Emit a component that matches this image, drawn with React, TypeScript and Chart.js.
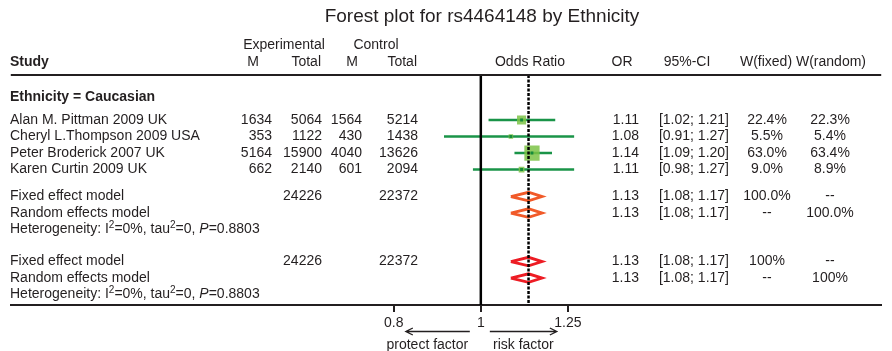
import React, { useEffect, useRef } from 'react';
import { Chart, registerables } from 'chart.js';

Chart.register(...registerables);

// ---------------- data ----------------
const TITLE = 'Forest plot for rs4464148 by Ethnicity';
const SUBGROUP_LABEL = 'Ethnicity = Caucasian';
const studies = ['Alan M. Pittman 2009 UK', 'Cheryl L.Thompson 2009 USA', 'Peter Broderick 2007 UK', 'Karen Curtin 2009 UK'];
const expEvents = [1634, 353, 5164, 662];
const expTotal = [5064, 1122, 15900, 2140];
const ctrlEvents = [1564, 430, 4040, 601];
const ctrlTotal = [5214, 1438, 13626, 2094];
const oddsRatios = [1.11, 1.08, 1.14, 1.11];
const ciLower = [1.02, 0.91, 1.09, 0.98];
const ciUpper = [1.21, 1.27, 1.2, 1.27];
const weightFixed = [22.4, 5.5, 63.0, 9.0];
const weightRandom = [22.3, 5.4, 63.4, 8.9];

const modelNames = ['Fixed effect model', 'Random effects model'];
const pooledOR = [1.13, 1.13];
const pooledLower = [1.08, 1.08];
const pooledUpper = [1.17, 1.17];
const pooledExpTotal = 24226;
const pooledCtrlTotal = 22372;
const subgroupWFixed = ['100.0%', '--'];
const subgroupWRandom = ['--', '100.0%'];
const overallWFixed = ['100%', '--'];
const overallWRandom = ['--', '100%'];
const hetI2 = '0%';
const hetTau2 = '0';
const hetP = '0.8803';

const xTicks = [0.8, 1, 1.25];
const referenceOR = 1;

// ---------------- layout / style ----------------
const FONT = '"Liberation Sans", Arial, Helvetica, sans-serif';
const TXT = '#231f20';
const LINE_GREEN = '#1a9448';
const SQUARE_GREEN = 'rgba(125,195,70,0.85)';
const DOT_GREEN = '#168a3c';
const ORANGE = '#f15a29';
const RED = '#ed1c24';

const X_MIN = 0.304;
const X_MAX = 2.7887;
const Y_MIN = -0.727;
const Y_MAX = 13.21;

const ROW_HEAD1 = -2.52;
const ROW_HEAD2 = -1.52;
const ROW_SUBGROUP = 0.6;
const studyRow = (i: number) => 2 + i;
const subgroupModelRows = [6.64, 7.64];
const ROW_HET1 = 8.64;
const overallModelRows = [10.58, 11.58];
const ROW_HET2 = 12.58;
const DIAMOND_HALF = 0.26;

const fmt2 = (v: number) => v.toFixed(2);
const ciText = (lo: number, hi: number) => `[${fmt2(lo)}; ${fmt2(hi)}]`;
const pct = (v: number) => `${v.toFixed(1)}%`;

function text(ctx: CanvasRenderingContext2D, s: string, x: number, y: number, align: CanvasTextAlign, bold = false, size = 14) {
  ctx.font = `${bold ? 'bold ' : ''}${size}px ${FONT}`;
  ctx.textAlign = align;
  ctx.textBaseline = 'middle';
  ctx.fillStyle = TXT;
  ctx.fillText(s, x, y);
}

function drawHet(ctx: CanvasRenderingContext2D, x: number, y: number) {
  const segs: { t: string; k: 'n' | 's' | 'i' }[] = [
    { t: 'Heterogeneity: I', k: 'n' },
    { t: '2', k: 's' },
    { t: '=' + hetI2 + ', tau', k: 'n' },
    { t: '2', k: 's' },
    { t: '=' + hetTau2 + ', ', k: 'n' },
    { t: 'P', k: 'i' },
    { t: '=' + hetP, k: 'n' },
  ];
  ctx.textAlign = 'left';
  ctx.textBaseline = 'middle';
  ctx.fillStyle = TXT;
  let cx = x;
  for (const s of segs) {
    if (s.k === 's') ctx.font = `10px ${FONT}`;
    else if (s.k === 'i') ctx.font = `italic 14px ${FONT}`;
    else ctx.font = `14px ${FONT}`;
    ctx.fillText(s.t, cx, s.k === 's' ? y - 4 : y);
    cx += ctx.measureText(s.t).width;
  }
}

const textPlugin = {
  id: 'forestText',
  afterDraw(chart: any) {
    const ctx: CanvasRenderingContext2D = chart.ctx;
    const ys = chart.scales.y;
    const xs = chart.scales.x;
    const Y = (r: number) => ys.getPixelForValue(r);
    ctx.save();

    // title
    text(ctx, TITLE, 482, 17, 'center', false, 19);

    // header
    text(ctx, 'Experimental', 284, Y(ROW_HEAD1), 'center');
    text(ctx, 'Control', 376, Y(ROW_HEAD1), 'center');
    text(ctx, 'Study', 10, Y(ROW_HEAD2), 'left', true);
    text(ctx, 'M', 253, Y(ROW_HEAD2), 'center');
    text(ctx, 'Total', 321, Y(ROW_HEAD2), 'right');
    text(ctx, 'M', 352, Y(ROW_HEAD2), 'center');
    text(ctx, 'Total', 417, Y(ROW_HEAD2), 'right');
    text(ctx, 'Odds Ratio', 530, Y(ROW_HEAD2), 'center');
    text(ctx, 'OR', 622, Y(ROW_HEAD2), 'center');
    text(ctx, '95%-CI', 687, Y(ROW_HEAD2), 'center');
    text(ctx, 'W(fixed)', 766, Y(ROW_HEAD2), 'center');
    text(ctx, 'W(random)', 831, Y(ROW_HEAD2), 'center');

    // header rule
    ctx.strokeStyle = TXT;
    ctx.lineWidth = 2;
    ctx.beginPath();
    ctx.moveTo(chart.chartArea.left, chart.chartArea.top);
    ctx.lineTo(chart.chartArea.right, chart.chartArea.top);
    ctx.stroke();

    text(ctx, SUBGROUP_LABEL, 10, Y(ROW_SUBGROUP), 'left', true);

    studies.forEach((s, i) => {
      const y = Y(studyRow(i));
      text(ctx, s, 10, y, 'left');
      text(ctx, String(expEvents[i]), 272, y, 'right');
      text(ctx, String(expTotal[i]), 322, y, 'right');
      text(ctx, String(ctrlEvents[i]), 362, y, 'right');
      text(ctx, String(ctrlTotal[i]), 418, y, 'right');
      text(ctx, fmt2(oddsRatios[i]), 639, y, 'right');
      text(ctx, ciText(ciLower[i], ciUpper[i]), 729, y, 'right');
      text(ctx, pct(weightFixed[i]), 767, y, 'center');
      text(ctx, pct(weightRandom[i]), 830, y, 'center');
    });

    const block = (rows: number[], wf: string[], wr: string[], hetRow: number) => {
      modelNames.forEach((m, k) => {
        const y = Y(rows[k]);
        text(ctx, m, 10, y, 'left');
        if (k === 0) {
          text(ctx, String(pooledExpTotal), 322, y, 'right');
          text(ctx, String(pooledCtrlTotal), 418, y, 'right');
        }
        text(ctx, fmt2(pooledOR[k]), 639, y, 'right');
        text(ctx, ciText(pooledLower[k], pooledUpper[k]), 729, y, 'right');
        text(ctx, wf[k], 767, y, 'center');
        text(ctx, wr[k], 830, y, 'center');
      });
      drawHet(ctx, 10, Y(hetRow));
    };
    block(subgroupModelRows, subgroupWFixed, subgroupWRandom, ROW_HET1);
    block(overallModelRows, overallWFixed, overallWRandom, ROW_HET2);

    // direction arrows under the axis
    const x1 = xs.getPixelForValue(referenceOR);
    const ay = 331.5;
    ctx.strokeStyle = TXT;
    ctx.lineWidth = 1.3;
    const arrow = (from: number, to: number) => {
      const d = Math.sign(to - from);
      ctx.beginPath();
      ctx.moveTo(from, ay);
      ctx.lineTo(to, ay);
      ctx.moveTo(to - d * 7, ay - 3.5);
      ctx.lineTo(to, ay);
      ctx.lineTo(to - d * 7, ay + 3.5);
      ctx.stroke();
    };
    arrow(x1 - 11, x1 - 75);
    arrow(x1 + 9, x1 + 76);
    text(ctx, 'protect factor', x1 - 53.5, 345, 'center');
    text(ctx, 'risk factor', x1 + 42.5, 345, 'center');

    ctx.restore();
  },
};

export default function App() {
  const ref = useRef<HTMLCanvasElement>(null);
  useEffect(() => {
    document.body.style.margin = '0';
    const canvas = ref.current;
    if (!canvas) return;

    const datasets: any[] = [];
    // centre dots (top-most)
    datasets.push({
      data: oddsRatios.map((v, i) => ({ x: v, y: studyRow(i) })),
      pointStyle: 'rect',
      pointRadius: 2,
      backgroundColor: DOT_GREEN,
      borderWidth: 0,
      showLine: false,
    });
    // vertical reference lines
    datasets.push({
      data: [{ x: pooledOR[0], y: Y_MIN }, { x: pooledOR[0], y: Y_MAX }],
      showLine: true,
      borderColor: '#000',
      borderWidth: 2.5,
      borderDash: [3, 1.5],
      pointRadius: 0,
    });
    datasets.push({
      data: [{ x: referenceOR, y: Y_MIN }, { x: referenceOR, y: Y_MAX }],
      showLine: true,
      borderColor: '#000',
      borderWidth: 2.5,
      pointRadius: 0,
    });
    // diamonds
    const diamond = (k: number, row: number, color: string) => ({
      data: [
        { x: pooledLower[k], y: row },
        { x: pooledOR[k], y: row - DIAMOND_HALF },
        { x: pooledUpper[k], y: row },
        { x: pooledOR[k], y: row + DIAMOND_HALF },
        { x: pooledLower[k], y: row },
      ],
      showLine: true,
      borderColor: color,
      borderWidth: 2.8,
      borderJoinStyle: 'miter',
      pointRadius: 0,
      fill: false,
      tension: 0,
    });
    subgroupModelRows.forEach((r, k) => datasets.push(diamond(k, r, ORANGE)));
    overallModelRows.forEach((r, k) => datasets.push(diamond(k, r, RED)));
    // weight squares
    datasets.push({
      data: oddsRatios.map((v, i) => ({ x: v, y: studyRow(i) })),
      pointStyle: 'rect',
      pointRadius: weightFixed.map((w) => 1.36 * Math.sqrt(w)),
      backgroundColor: SQUARE_GREEN,
      borderWidth: 0,
      showLine: false,
    });
    // confidence interval lines
    studies.forEach((_, i) =>
      datasets.push({
        data: [{ x: ciLower[i], y: studyRow(i) }, { x: ciUpper[i], y: studyRow(i) }],
        showLine: true,
        borderColor: LINE_GREEN,
        borderWidth: 2.4,
        pointRadius: 0,
      })
    );

    const chart = new Chart(canvas, {
      type: 'scatter',
      data: { datasets },
      options: {
        responsive: false,
        animation: false,
        devicePixelRatio: 1,
        events: [],
        layout: { padding: { top: 75, left: 8, right: 0, bottom: 16.2 } },
        plugins: { legend: { display: false }, tooltip: { enabled: false }, title: { display: false } },
        scales: {
          x: {
            type: 'logarithmic',
            min: X_MIN,
            max: X_MAX,
            position: 'bottom',
            afterBuildTicks: (scale: any) => {
              scale.ticks = xTicks.map((v) => ({ value: v }));
            },
            ticks: {
              autoSkip: false,
              maxRotation: 0,
              padding: 3,
              color: TXT,
              font: { family: FONT, size: 14 },
              callback: (v: any) => String(v),
            },
            grid: { drawOnChartArea: false, drawTicks: true, tickLength: 7, lineWidth: 2, color: TXT },
            border: { display: true, width: 2, color: TXT },
          },
          y: { type: 'linear', min: Y_MIN, max: Y_MAX, reverse: true, display: false },
        },
      } as any,
      plugins: [textPlugin],
    });
    return () => chart.destroy();
  }, []);

  return (
    <div style={{ width: 892, height: 351 }}>
      <canvas ref={ref} width={892} height={351} style={{ width: 892, height: 351, display: 'block' }} />
    </div>
  );
}
